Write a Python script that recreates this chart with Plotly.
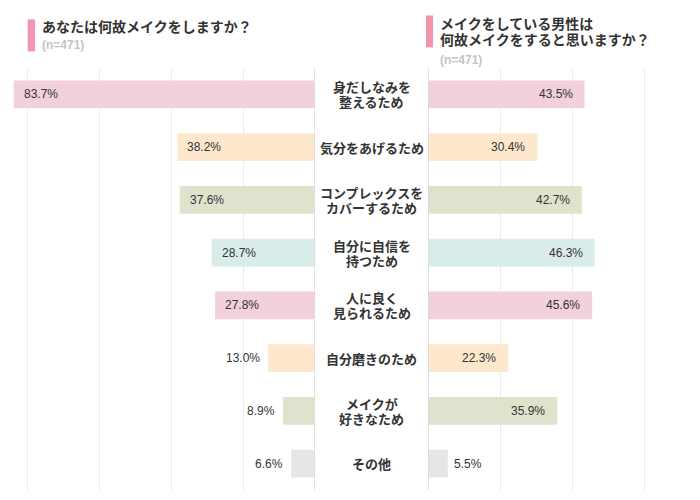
import plotly.graph_objects as go

categories = ["身だしなみを<br>整えるため", "気分をあげるため", "コンプレックスを<br>カバーするため",
              "自分に自信を<br>持つため", "人に良く<br>見られるため", "自分磨きのため",
              "メイクが<br>好きなため", "その他"]
self_pct = [83.7, 38.2, 37.6, 28.7, 27.8, 13.0, 8.9, 6.6]
others_pct = [43.5, 30.4, 42.7, 46.3, 45.6, 22.3, 35.9, 5.5]
bar_colors = ["#f2d1dc", "#fde8cd", "#dfe3ce", "#daecea", "#f2d1dc", "#fde8cd", "#dfe3ce", "#e6e6e6"]

left_title = "あなたは何故メイクをしますか？"
right_title = ["メイクをしている男性は", "何故メイクをすると思いますか？"]
n_label = "(n=471)"

W, H = 700, 500
T, B = 67.6, 10
PH = H - T - B
PXPCT = 3.6
LEFT_ZERO = 315
RIGHT_ZERO = 428

JP = "Noto Sans CJK JP"
NUM = "Liberation Sans, Arial"

fig = go.Figure()
fig.add_trace(go.Bar(x=self_pct, y=categories, orientation="h", xaxis="x", yaxis="y",
                     marker=dict(color=bar_colors, line=dict(width=0)), hoverinfo="skip"))
fig.add_trace(go.Bar(x=others_pct, y=categories, orientation="h", xaxis="x2", yaxis="y",
                     marker=dict(color=bar_colors, line=dict(width=0)), hoverinfo="skip"))

def py(ypx):
    return (H - B - ypx) / PH

annotations = []
# value labels
for c, v in zip(categories, self_pct):
    inside = v * PXPCT > 60
    annotations.append(dict(x=v, y=c, xref="x", yref="y", text=f"{v:.1f}%", showarrow=False,
                            xanchor="left" if inside else "right", xshift=8 if inside else -6,
                            font=dict(family=NUM, size=12, color="#333333")))
for c, v in zip(categories, others_pct):
    inside = v * PXPCT > 60
    annotations.append(dict(x=v, y=c, xref="x2", yref="y", text=f"{v:.1f}%", showarrow=False,
                            xanchor="right" if inside else "left", xshift=-10 if inside else 4,
                            font=dict(family=NUM, size=12, color="#333333")))
# category labels (one annotation per line for tighter line spacing)
LINE = 15
for c in categories:
    lines = c.split("<br>")
    n = len(lines)
    for i, ln in enumerate(lines):
        annotations.append(dict(x=(LEFT_ZERO + RIGHT_ZERO) / 2 / W, y=c, xref="paper", yref="y",
                                text=f"<b>{ln}</b>", showarrow=False, xanchor="center", yanchor="middle",
                                yshift=((n - 1) / 2 - i) * LINE,
                                font=dict(family=JP, size=13, color="#333333")))
# titles
annotations.append(dict(x=40 / W, y=py(26), xref="paper", yref="paper", text=f"<b>{left_title}</b>",
                        showarrow=False, xanchor="left", yanchor="middle",
                        font=dict(family=JP, size=14, color="#333333")))
annotations.append(dict(x=40 / W, y=py(45), xref="paper", yref="paper", text=f"<b>{n_label}</b>",
                        showarrow=False, xanchor="left", yanchor="middle",
                        font=dict(family=NUM, size=12, color="#c4c4c4")))
for i, line in enumerate(right_title):
    annotations.append(dict(x=438 / W, y=py(23 + 16 * i), xref="paper", yref="paper",
                            text=f"<b>{line}</b>", showarrow=False, xanchor="left", yanchor="middle",
                            font=dict(family=JP, size=14, color="#333333")))
annotations.append(dict(x=438 / W, y=py(60), xref="paper", yref="paper", text=f"<b>{n_label}</b>",
                        showarrow=False, xanchor="left", yanchor="middle",
                        font=dict(family=NUM, size=12, color="#c4c4c4")))

shapes = [
    dict(type="rect", xref="paper", yref="paper", x0=27.7 / W, x1=35 / W, y0=py(51), y1=py(19),
         fillcolor="#f495b0", line=dict(width=0)),
    dict(type="rect", xref="paper", yref="paper", x0=426 / W, x1=433 / W, y0=py(47), y1=py(15),
         fillcolor="#f495b0", line=dict(width=0)),
    dict(type="line", xref="x", yref="paper", x0=0, x1=0, y0=0, y1=1,
         line=dict(color="#d9d9d9", width=1.5), layer="above"),
    dict(type="line", xref="x2", yref="paper", x0=0, x1=0, y0=0, y1=1,
         line=dict(color="#d9d9d9", width=1.5), layer="above"),
]

fig.update_layout(
    width=W, height=H,
    margin=dict(l=0, r=0, t=T, b=B, pad=0),
    paper_bgcolor="white", plot_bgcolor="white",
    showlegend=False, bargap=0.475,
    xaxis=dict(domain=[0, LEFT_ZERO / W], range=[LEFT_ZERO / PXPCT, 0], tickvals=[20, 40, 60, 80],
               showticklabels=False, showgrid=True, gridcolor="#ebebeb", gridwidth=1.2,
               zeroline=False, showline=False, ticks="", fixedrange=True),
    xaxis2=dict(domain=[RIGHT_ZERO / W, 1], range=[0, (W - RIGHT_ZERO) / PXPCT], tickvals=[20, 40, 60],
                showticklabels=False, showgrid=True, gridcolor="#ebebeb", gridwidth=1.2,
                zeroline=False, showline=False, ticks="", anchor="y", fixedrange=True),
    yaxis=dict(categoryorder="array", categoryarray=categories, autorange="reversed",
               showticklabels=False, showgrid=False, zeroline=False, ticks="", fixedrange=True),
    annotations=annotations, shapes=shapes,
)

fig.write_html("out.html", config={"displayModeBar": False},
               post_script="document.body.style.margin='0';document.body.style.overflow='hidden';")
